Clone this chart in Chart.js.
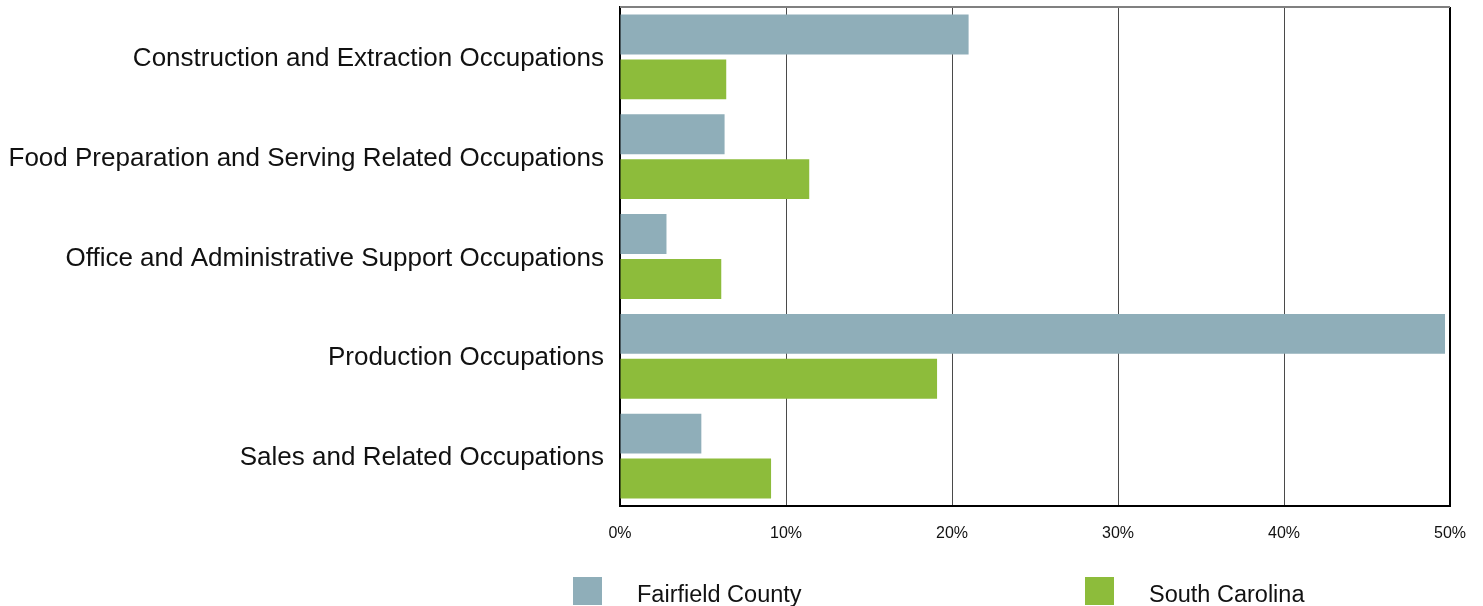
<!DOCTYPE html>
<html>
<head>
<meta charset="utf-8">
<script src="https://cdn.jsdelivr.net/npm/chart.js@4.4.1/dist/chart.umd.min.js"></script>
<style>
html,body{margin:0;padding:0;background:#fff;}
#wrap{position:relative;width:1483px;height:606px;}
#legend{position:absolute;left:0;top:0;width:1483px;height:606px;pointer-events:none;
font-family:"Liberation Sans",Arial,sans-serif;font-size:23.5px;color:#111;}
.box{position:absolute;width:29px;height:28px;top:577px;}
.txt{position:absolute;top:579px;line-height:30px;}
</style>
</head>
<body>
<div id="wrap">
<canvas id="occChart" width="1483" height="606"></canvas>
<div id="legend"></div>
</div>
<script>
// ===============================
// Data
// ===============================

const categories=[
'Construction and Extraction Occupations',
'Food Preparation and Serving Related Occupations',
'Office and Administrative Support Occupations',
'Production Occupations',
'Sales and Related Occupations'
];

const seriesNames=['Fairfield County','South Carolina'];

const fairfield=[21.0,6.3,2.8,49.7,4.9];
const southCarolina=[6.4,11.4,6.1,19.1,9.1];

const tickValues=[0,10,20,30,40,50];

const colors=['#8FAEB9','#8DBC3B'];

// ===============================
// Top frame line
// ===============================

const frameLine={
id:'frameLine',
afterDraw(chart){
const a=chart.chartArea;
const ctx=chart.ctx;
ctx.save();
ctx.strokeStyle='#808080';
ctx.lineWidth=2;
ctx.beginPath();
ctx.moveTo(a.left,a.top);
ctx.lineTo(a.right,a.top);
ctx.stroke();
ctx.restore();
}
};

// ===============================
// Chart
// ===============================

const ctx=document.getElementById('occChart');

const chart=new Chart(ctx,{

type:'bar',

data:{
labels:categories,
datasets:[{
label:seriesNames[0],
data:fairfield,
backgroundColor:colors[0],
borderWidth:0
},{
label:seriesNames[1],
data:southCarolina,
backgroundColor:colors[1],
borderWidth:0
}]
},

options:{
indexAxis:'y',
responsive:false,
animation:false,
categoryPercentage:0.9,
barPercentage:0.889,
layout:{padding:{top:7,right:33,bottom:0,left:0}},
plugins:{
legend:{display:false},
tooltip:{enabled:false}
},
scales:{
x:{
min:tickValues[0],
max:tickValues[tickValues.length-1],
afterFit(scale){
scale.height=100;
scale.paddingLeft=0;
scale.paddingRight=0;
},
afterBuildTicks(scale){scale.ticks=tickValues.map(v=>({value:v}));},
ticks:{
padding:18,
color:'#111',
font:{family:'"Liberation Sans", Arial, sans-serif',size:16},
callback:v=>v+'%'
},
grid:{
drawTicks:false,
color:c=>c.index===tickValues.length-1?'#000':'#4a4a4a',
lineWidth:c=>c.index===tickValues.length-1?2:1
},
border:{color:'#000',width:2}
},
y:{
afterFit(scale){
scale.width=620;
scale.paddingTop=0;
scale.paddingBottom=0;
},
ticks:{
padding:16,
labelOffset:2,
color:'#111',
font:{family:'"Liberation Sans", Arial, sans-serif',size:26}
},
grid:{display:false,drawTicks:false},
border:{color:'#000',width:2}
}
}
},

plugins:[frameLine]

});

// ===============================
// Legend
// ===============================

const legend=document.getElementById('legend');
const legendX=[573,1085];

chart.data.datasets.forEach((ds,i)=>{
const box=document.createElement('div');
box.className='box';
box.style.left=legendX[i]+'px';
box.style.background=ds.backgroundColor;
legend.appendChild(box);
const txt=document.createElement('div');
txt.className='txt';
txt.style.left=(legendX[i]+64)+'px';
txt.textContent=ds.label;
legend.appendChild(txt);
});
</script>
</body>
</html>
